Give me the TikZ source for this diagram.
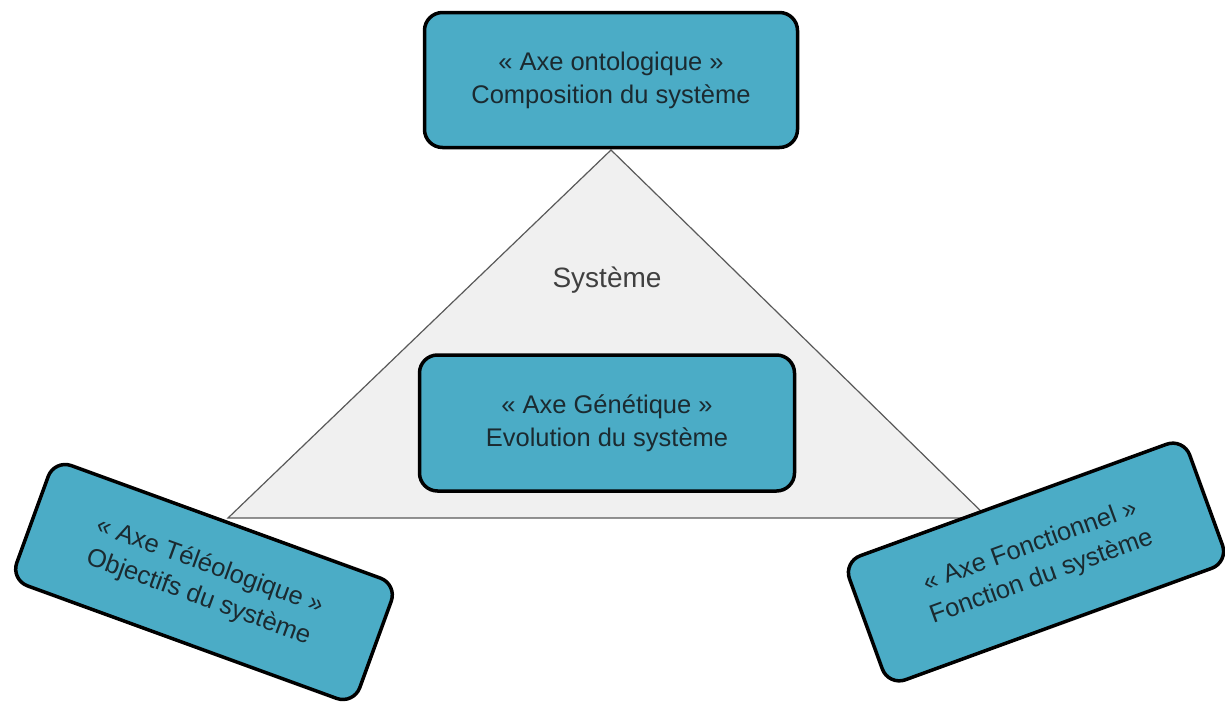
\documentclass[tikz,border=0pt]{standalone}
\usepackage{fontspec}
\setmainfont{Liberation Sans}
\usetikzlibrary{positioning}
\definecolor{axefill}{HTML}{4BACC6}
\definecolor{axetext}{HTML}{1B2A30}
\definecolor{sysfill}{HTML}{F0F0F0}

\begin{document}
\begin{tikzpicture}[
  x=1pt, y=-1pt,
  axe/.style={rectangle, rounded corners=18pt, draw, line width=3.5pt,
              fill=axefill, text=axetext, align=center,
              font=\fontsize{25.5}{33}\selectfont},
  label/.style={font=\fontsize{28}{32}\selectfont, text=black!75},
  tri/.style={draw=black!65, line width=1.2pt, fill=sysfill},
]
  \useasboundingbox (0,0) rectangle (1225,704);

  % triangle du systeme
  \coordinate (apex) at (611,150);
  \coordinate (bl) at (228,518);
  \coordinate (br) at (988,518);
  \draw[tri] (apex) -- (bl) -- (br) -- cycle;

  \node[label] (sys) at (607,280) {Système};

  \node[axe, minimum width=373pt, minimum height=135pt] (onto) at (611,80)
    {« Axe ontologique »\\Composition du système};
  \node[axe, minimum width=375pt, minimum height=136pt] (gene) at (607,423)
    {« Axe Génétique »\\Evolution du système};
  \node[axe, minimum width=365pt, minimum height=128pt, rotate=-20] (teleo) at (204,582)
    {« Axe Téléologique »\\Objectifs du système};
  \node[axe, minimum width=362pt, minimum height=132pt, rotate=20] (fonct) at (1036,562)
    {« Axe Fonctionnel »\\Fonction du système};
\end{tikzpicture}
\end{document}
